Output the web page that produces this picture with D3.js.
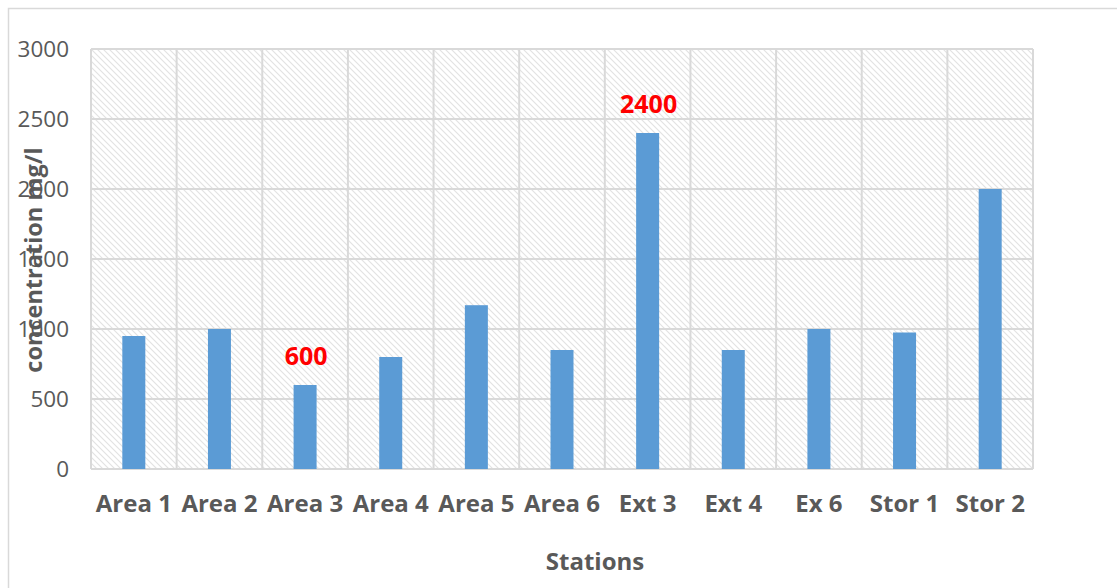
<!DOCTYPE html>
<html>
<head>
<meta charset="utf-8">
<script src="https://cdn.jsdelivr.net/npm/d3@7"></script>
<style>
  html, body { margin: 0; padding: 0; background: #fff; }
  svg { display: block; font-family: "Open Sans", "Noto Sans", sans-serif; }
</style>
</head>
<body>
<svg id="chart" width="1117" height="588"></svg>
<script>
// Station names along the x axis
const stations = ["Area 1", "Area 2", "Area 3", "Area 4", "Area 5", "Area 6", "Ext 3", "Ext 4", "Ex 6", "Stor 1", "Stor 2"];
// Measured concentration (mg/l) per station
const concentration = [950, 1000, 600, 800, 1170, 850, 2400, 850, 1000, 975, 2000];
// Stations whose value is printed above the bar
const labelled = ["Area 3", "Ext 3"];
// Y axis ticks
const yTicks = [0, 500, 1000, 1500, 2000, 2500, 3000];

const svg = d3.select("#chart");
const W = 1117, H = 588;
const plot = { left: 91, right: 1033, top: 49, bottom: 469 };
const textColor = "#595959";
const gridColor = "#d9d9d9";
const font = "'Open Sans', 'Noto Sans', sans-serif";

// Outer chart frame
svg.append("rect")
  .attr("x", 8.5).attr("y", 8.5)
  .attr("width", W + 20).attr("height", H + 20)
  .attr("fill", "#fff").attr("stroke", "#d9d9d9").attr("stroke-width", 1.5);

// Diagonal hatch fill for the plot area
const defs = svg.append("defs");
const pat = defs.append("pattern")
  .attr("id", "hatch")
  .attr("patternUnits", "userSpaceOnUse")
  .attr("width", 6).attr("height", 6);
pat.append("rect").attr("width", 6).attr("height", 6).attr("fill", "#fff");
pat.append("path")
  .attr("d", "M-1,-1 L7,7 M-1,5 L1,7 M5,-1 L7,1")
  .attr("stroke", "#e2e2e2").attr("stroke-width", 1.1);

const x = d3.scaleBand()
  .domain(stations)
  .range([plot.left, plot.right])
  .paddingInner(0).paddingOuter(0);

const y = d3.scaleLinear()
  .domain([0, 3000])
  .range([plot.bottom, plot.top]);

svg.append("rect")
  .attr("x", plot.left).attr("y", plot.top)
  .attr("width", plot.right - plot.left).attr("height", plot.bottom - plot.top)
  .attr("fill", "url(#hatch)");

// Horizontal gridlines
svg.append("g")
  .selectAll("line")
  .data(yTicks)
  .join("line")
  .attr("x1", plot.left).attr("x2", plot.right)
  .attr("y1", d => y(d)).attr("y2", d => y(d))
  .attr("stroke", gridColor).attr("stroke-width", 2);

// Vertical gridlines at category boundaries
const bounds = stations.map(s => x(s)).concat([x(stations[stations.length - 1]) + x.bandwidth()]);
svg.append("g")
  .selectAll("line")
  .data(bounds)
  .join("line")
  .attr("x1", d => d).attr("x2", d => d)
  .attr("y1", plot.top).attr("y2", plot.bottom)
  .attr("stroke", gridColor).attr("stroke-width", 2);

// Bars
const barW = 23;
svg.append("g")
  .selectAll("rect")
  .data(stations.map((s, i) => ({ s, v: concentration[i] })))
  .join("rect")
  .attr("x", d => x(d.s) + x.bandwidth() / 2 - barW / 2)
  .attr("y", d => y(d.v))
  .attr("width", barW)
  .attr("height", d => y(0) - y(d.v))
  .attr("fill", "#5b9bd5");

// Value labels
svg.append("g")
  .selectAll("text")
  .data(stations.map((s, i) => ({ s, v: concentration[i] })).filter(d => labelled.includes(d.s)))
  .join("text")
  .attr("x", d => x(d.s) + x.bandwidth() / 2 + 1)
  .attr("y", d => y(d.v) - 20)
  .attr("text-anchor", "middle")
  .attr("fill", "#ff0000")
  .attr("font-weight", "bold")
  .attr("font-size", 25)
  .attr("font-family", font)
  .text(d => d.v);

// Y axis tick labels
const yAxis = d3.axisLeft(y).tickValues(yTicks).tickFormat(d3.format("d")).tickSize(0).tickPadding(22);
const gy = svg.append("g").attr("transform", `translate(${plot.left},0)`).call(yAxis);
gy.select(".domain").remove();
gy.selectAll("text")
  .attr("fill", textColor)
  .attr("font-size", 22.5)
  .attr("font-family", font);

// X axis category labels
const xAxis = d3.axisBottom(x).tickSize(0).tickPadding(26);
const gx = svg.append("g").attr("transform", `translate(0,${plot.bottom})`).call(xAxis);
gx.select(".domain").remove();
gx.selectAll("text")
  .attr("fill", textColor)
  .attr("font-size", 24)
  .attr("font-weight", "bold")
  .attr("font-family", font);

// Axis titles
svg.append("text")
  .attr("x", 595).attr("y", 570)
  .attr("text-anchor", "middle")
  .attr("fill", textColor)
  .attr("font-size", 24)
  .attr("font-weight", "bold")
  .attr("font-family", font)
  .text("Stations");

svg.append("text")
  .attr("transform", "translate(42,260) rotate(-90)")
  .attr("text-anchor", "middle")
  .attr("fill", textColor)
  .attr("font-size", 23.5)
  .attr("font-weight", "bold")
  .attr("font-family", font)
  .text("concentration mg/l");
</script>
</body>
</html>
